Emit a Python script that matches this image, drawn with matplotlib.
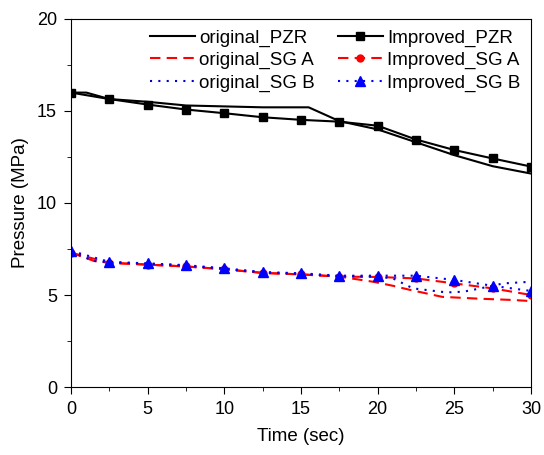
import matplotlib
matplotlib.use('Agg')
import matplotlib.pyplot as plt
import numpy as np
from matplotlib.ticker import MultipleLocator

plt.rcParams['font.family'] = ['Liberation Sans', 'DejaVu Sans']

# improved runs, sampled every 2.5 s
t_imp = [0, 2.5, 5, 7.5, 10, 12.5, 15, 17.5, 20, 22.5, 25, 27.5, 30]
imp_pzr = [16.0, 15.65, 15.35, 15.08, 14.88, 14.66, 14.52, 14.42, 14.2, 13.45, 12.88, 12.42, 11.98]
imp_sga = [7.3, 6.75, 6.65, 6.55, 6.4, 6.2, 6.12, 6.0, 5.98, 5.9, 5.63, 5.36, 5.0]
imp_sgb = [7.4, 6.8, 6.72, 6.62, 6.45, 6.25, 6.18, 6.05, 6.05, 6.05, 5.82, 5.5, 5.22]

# original runs
t_pzr = [0, 1, 2.5, 5, 7.5, 10, 12.5, 15.5, 17.5, 20, 22.5, 25, 27.5, 30]
orig_pzr = [16.0, 16.0, 15.65, 15.5, 15.3, 15.25, 15.2, 15.2, 14.45, 14.0, 13.3, 12.6, 12.0, 11.6]
t_sga = [0, 1.5, 2.5, 5, 7.5, 10, 12.5, 15, 17.5, 19.7, 21, 22, 24.2, 26.6, 28.8, 30]
orig_sga = [7.3, 6.85, 6.75, 6.65, 6.55, 6.4, 6.2, 6.12, 6.0, 5.72, 5.5, 5.3, 4.9, 4.8, 4.73, 4.67]
t_sgb = [0, 1.5, 2.5, 5, 7.5, 10, 12.5, 15, 17.5, 20, 21, 22.3, 24.5, 25.6, 26.7, 28.2, 30]
orig_sgb = [7.35, 6.85, 6.78, 6.7, 6.6, 6.42, 6.22, 6.15, 6.02, 6.0, 5.9, 5.36, 5.14, 5.18, 5.36, 5.63, 5.72]

fig = plt.figure(figsize=(5.44, 4.55), dpi=100)
ax = fig.add_axes([71/544, 1-387/455, 460/544, 368/455])

ax.plot(t_pzr, orig_pzr, color='black', lw=1.5, label='original_PZR')
ax.plot(t_imp, imp_pzr, color='black', lw=1.5, marker='s', ms=6, label='Improved_PZR')
ax.plot(t_sga, orig_sga, color='red', lw=1.5, ls=(0, (5, 3)), label='original_SG A')
ax.plot(t_imp, imp_sga, color='red', lw=1.5, ls=(0, (5, 3)), marker='o', ms=5, label='Improved_SG A')
ax.plot(t_sgb, orig_sgb, color='#0000cc', lw=1.5, ls=(0, (1, 3)), label='original_SG B')
ax.plot(t_imp, imp_sgb, color='blue', lw=1.5, ls=(0, (1, 3)), marker='^', ms=7, label='Improved_SG B')

ax.set_xlim(0, 30)
ax.set_ylim(0, 20)
ax.xaxis.set_major_locator(MultipleLocator(5))
ax.xaxis.set_minor_locator(MultipleLocator(2.5))
ax.yaxis.set_major_locator(MultipleLocator(5))
ax.yaxis.set_minor_locator(MultipleLocator(2.5))
ax.tick_params(which='both', direction='out', top=False, right=False, labelsize=13)
ax.tick_params(which='major', length=5, pad=5)
ax.tick_params(which='minor', length=3)
ax.set_xlabel('Time (sec)', fontsize=13.5, labelpad=7)
ax.set_ylabel('Pressure (MPa)', fontsize=13.5, labelpad=6)

h, l = ax.get_legend_handles_labels()
order = [0, 2, 4, 1, 3, 5]
ax.legend([h[i] for i in order], [l[i] for i in order], ncol=2, frameon=False,
          loc='upper right', bbox_to_anchor=(1.0, 1.0), fontsize=13.5,
          handlelength=2.4, handletextpad=0.25, columnspacing=1.2,
          labelspacing=0.28, borderaxespad=0.15)

fig.savefig('out.png', dpi=100)
